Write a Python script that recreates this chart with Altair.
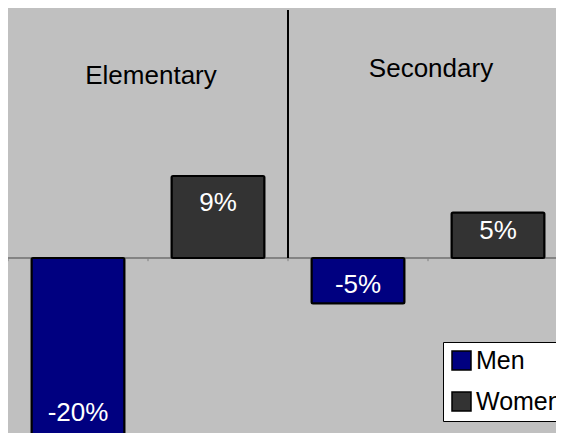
import altair as alt
import pandas as pd

# ---- data ----
groups = ["Elementary", "Secondary"]
sexes = ["Men", "Women"]
men_values = [-20, -5]
women_values = [9, 5]
colors = ["#000080", "#333333"]

rows = []
for g, m, w in zip(groups, men_values, women_values):
    rows.append({"group": g, "sex": "Men", "value": m, "slot": f"{g} Men"})
    rows.append({"group": g, "sex": "Women", "value": w, "slot": f"{g} Women"})
df = pd.DataFrame(rows)
slots = list(df["slot"])

FONT = "Liberation Sans"

xscale = alt.Scale(domain=slots, paddingInner=0, paddingOuter=0, range=[0, 560])
yscale = alt.Scale(domain=[-19.23, 27.25], nice=False, zero=False)

base = alt.Chart(df)

bars = base.mark_bar(
    width=alt.RelativeBandSize(0.664), stroke="black", strokeWidth=2,
    cornerRadius=1.5, fillOpacity=1
).encode(
    x=alt.X("slot:N", scale=xscale, axis=None),
    y=alt.Y("value:Q", scale=yscale, axis=None),
    fill=alt.Fill(
        "sex:N",
        scale=alt.Scale(domain=sexes, range=colors),
        legend=alt.Legend(
            title=None,
            orient="none",
            legendX=435,
            legendY=332,
            fillColor="white",
            strokeColor="black",
            padding=6,
            labelFont=FONT,
            labelFontSize=25,
            labelColor="black",
            labelOffset=2,
            symbolType="square",
            symbolSize=361,
            symbolStrokeColor="black",
            symbolStrokeWidth=1.5,
            symbolOpacity=1,
            rowPadding=15,
        ),
    ),
)

labels = base.transform_calculate(
    lab="datum.value + '%'",
    ly="datum.value - (datum.value > 0 ? 1 : -1) * min(3, abs(datum.value) * 0.4)",
).mark_text(color="white", font=FONT, fontSize=26, baseline="middle").encode(
    x=alt.X("slot:N", scale=xscale, axis=None),
    y=alt.Y("ly:Q", scale=yscale, axis=None),
    text="lab:N",
)

ticks = base.transform_calculate(z="0", z2="-0.35").mark_rule(
    color="#808080", strokeWidth=1
).encode(
    x=alt.X("slot:N", scale=xscale, axis=None, bandPosition=0),
    y=alt.Y("z:Q", scale=yscale, axis=None),
    y2="z2:Q",
)

zero_line = base.transform_calculate(z="0").mark_rule(
    color="#808080", strokeWidth=1
).encode(
    y=alt.Y("z:Q", scale=yscale, axis=None),
)

divider_df = pd.DataFrame({"slot": [f"{groups[1]} Men"]})
divider = alt.Chart(divider_df).transform_calculate(z="0").mark_rule(
    color="black", strokeWidth=2
).encode(
    x=alt.X("slot:N", scale=xscale, axis=None, bandPosition=0),
    y=alt.Y("z:Q", scale=yscale, axis=None),
    y2=alt.value(0),
)

glab_df = pd.DataFrame({"group": groups, "slot": [f"{g} Women" for g in groups]})


def group_label(name, dy):
    d = glab_df[glab_df.group == name].reset_index(drop=True)
    return alt.Chart(d).transform_calculate(gy="20").mark_text(
        font=FONT, fontSize=26, color="black", baseline="middle", dx=3, dy=dy
    ).encode(
        x=alt.X("slot:N", scale=xscale, axis=None, bandPosition=0),
        y=alt.Y("gy:Q", scale=yscale, axis=None),
        text="group:N",
    )


group_el = group_label(groups[0], 0)
group_se = group_label(groups[1], -7)

chart = (
    alt.layer(zero_line, ticks, divider, bars, labels, group_el, group_se)
    .properties(
        width=548,
        height=423,
        padding={"left": 0, "top": 2, "right": 0, "bottom": 0},
        autosize=alt.AutoSizeParams(type="none"),
        background="#c0c0c0",
    )
    .configure_view(strokeWidth=0)
)

chart.save("out.html", embed_options={"renderer": "svg", "actions": False})
